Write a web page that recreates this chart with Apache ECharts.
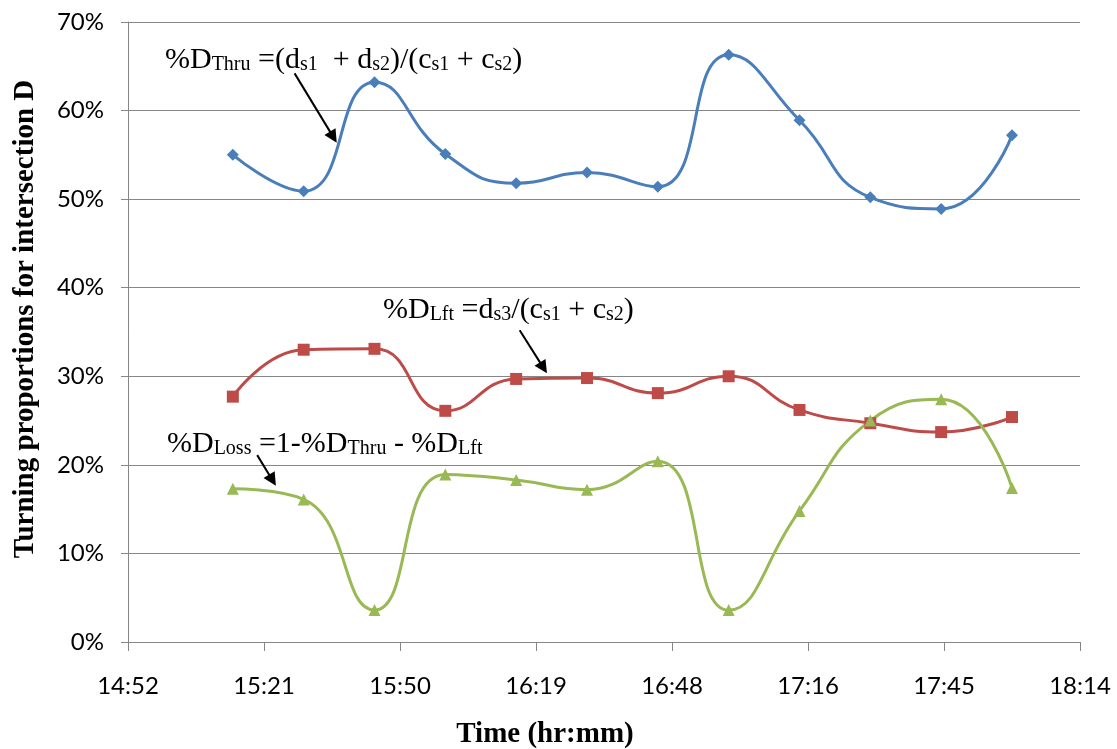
<!DOCTYPE html>
<html><head><meta charset="utf-8">
<script src="https://cdn.jsdelivr.net/npm/echarts@6/dist/echarts.min.js"></script>
<style>html,body{margin:0;padding:0;background:#fff}#c{width:1117px;height:749px}</style>
</head><body><div id="c"></div>
<script>
// ---- data ----
const times = ['15:15','15:30','15:45','16:00','16:15','16:30','16:45','17:00','17:15','17:30','17:45','18:00'];
const thruPct = [55.0, 50.9, 63.2, 55.1, 51.8, 53.0, 51.4, 66.3, 58.9, 50.2, 48.9, 57.2];
const lftPct  = [27.7, 33.0, 33.1, 26.1, 29.7, 29.8, 28.1, 30.0, 26.2, 24.7, 23.7, 25.4];
const lossPct = [17.3, 16.1,  3.6, 18.9, 18.3, 17.2, 20.4,  3.6, 14.8, 25.0, 27.4, 17.4];
// x axis in fractions of a day (Excel time): 14:52 ... 18:14
const xMin = 0.62, xMax = 0.76, xStep = 0.02;
const yMin = 0, yMax = 70, yStep = 10;
// annotation arrows: [startTime(day), startPct, endTime(day), endPct]
const arrows = [
  [0.6445, 64.2, 0.6502, 57.0],
  [0.6776, 35.2, 0.6811, 30.95],
  [0.6390, 21.1, 0.64125, 18.27]
];

function toDay(t){ const p = t.split(':'); return (parseInt(p[0])*60 + parseInt(p[1]))/1440; }
function fmtTime(v){
  const m = Math.floor(v*1440 + 1e-6);
  const h = Math.floor(m/60), mm = m % 60;
  return h + ':' + (mm < 10 ? '0' : '') + mm;
}
const xs = times.map(toDay);
const pairs = arr => arr.map((v,i) => [xs[i], v]);

const serif = "'Liberation Serif', 'DejaVu Serif', serif";
const sans = "Lato, 'Open Sans', sans-serif";
const rich = {
  m: {fontFamily: serif, fontSize: 30, lineHeight: 34, color: '#000', verticalAlign: 'bottom'},
  s: {fontFamily: serif, fontSize: 20, lineHeight: 24, color: '#000', verticalAlign: 'bottom'}
};
function note(x, y, text){
  return {type:'text', x:x, y:y, z:100, style:{text:text, rich:rich, align:'left', verticalAlign:'bottom'}};
}

const chart = echarts.init(document.getElementById('c'), null, {renderer:'canvas'});
const smooth = 0.5;
chart.setOption({
  animation: false,
  backgroundColor: '#fff',
  grid: {left: 128, right: 37, top: 22, bottom: 107, containLabel: false, outerBoundsMode: 'none'},
  xAxis: {
    type: 'value', min: xMin, max: xMax, interval: xStep,
    name: 'Time (hr:mm)', nameLocation: 'middle', nameGap: 78,
    nameTextStyle: {fontFamily: serif, fontWeight: 'bold', fontSize: 29, color: '#000', padding: [0, 118, 0, 0]},
    axisLine: {show: true, lineStyle: {color: '#868686', width: 1}},
    axisTick: {show: true, length: 9, inside: false, lineStyle: {color: '#868686'}},
    axisLabel: {margin: 32, fontFamily: sans, fontSize: 24, color: '#000', formatter: fmtTime},
    splitLine: {show: false}
  },
  yAxis: {
    type: 'value', min: yMin, max: yMax, interval: yStep,
    name: 'Turning proportions for intersection D', nameLocation: 'middle', nameGap: 88,
    nameTextStyle: {fontFamily: serif, fontWeight: 'bold', fontSize: 29, color: '#000', padding: [0, 0, 0, 26]},
    axisLine: {show: true, lineStyle: {color: '#868686', width: 1}},
    axisTick: {show: true, length: 7, lineStyle: {color: '#868686'}},
    axisLabel: {margin: 24, fontFamily: sans, fontSize: 24, color: '#000', formatter: '{value}%'},
    splitLine: {show: true, lineStyle: {color: '#868686', width: 1}}
  },
  series: [
    {
      name: '%DThru', type: 'line', data: pairs(thruPct), smooth: smooth,
      symbol: 'diamond', symbolSize: 12,
      lineStyle: {color: '#4A7EBB', width: 3}, itemStyle: {color: '#4A7EBB'},
      markLine: {
        silent: true, symbol: ['none', 'triangle'], symbolSize: 13,
        label: {show: false},
        lineStyle: {color: '#000', width: 2, type: 'solid'},
        data: arrows.map(a => [{coord: [a[0], a[1]]}, {coord: [a[2], a[3]]}])
      }
    },
    {
      name: '%DLft', type: 'line', data: pairs(lftPct), smooth: smooth,
      symbol: 'rect', symbolSize: 12,
      lineStyle: {color: '#BE4B48', width: 3}, itemStyle: {color: '#BE4B48'}
    },
    {
      name: '%DLoss', type: 'line', data: pairs(lossPct), smooth: smooth,
      symbol: 'triangle', symbolSize: 12,
      lineStyle: {color: '#98B954', width: 3}, itemStyle: {color: '#98B954'}
    }
  ],
  graphic: [
    note(165, 75, '{m|%D}{s|Thru}{m| =(d}{s|s1}{m|  + d}{s|s2}{m|)/(c}{s|s1}{m| + c}{s|s2}{m|)}'),
    note(383, 325, '{m|%D}{s|Lft}{m| =d}{s|s3}{m|/(c}{s|s1}{m| + c}{s|s2}{m|)}'),
    note(167, 459, '{m|%D}{s|Loss}{m| =1-%D}{s|Thru}{m| - %D}{s|Lft}')
  ]
});
</script>
</body></html>
